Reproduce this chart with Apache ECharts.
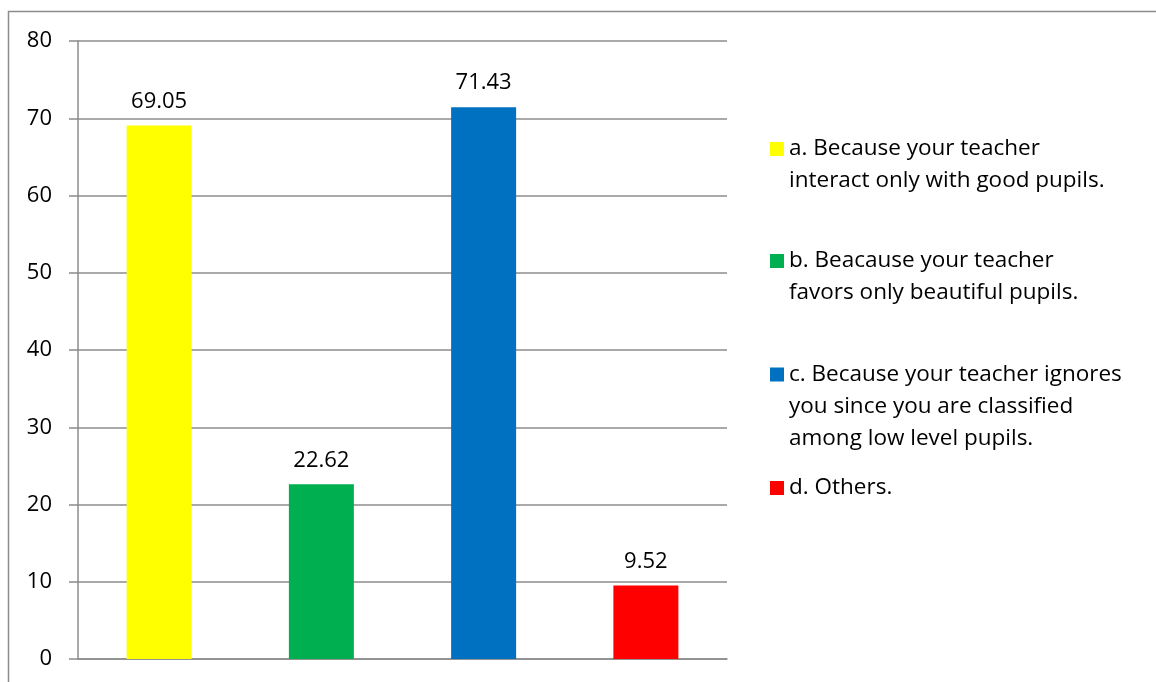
<!DOCTYPE html>
<html>
<head>
<meta charset="utf-8">
<script src="https://cdn.jsdelivr.net/npm/echarts@6/dist/echarts.min.js"></script>
<style>
html,body{margin:0;padding:0;background:#fff;}
#chart{width:1156px;height:682px;}
</style>
</head>
<body>
<div id="chart"></div>
<script>
const categories = ['a', 'b', 'c', 'd'];
const seriesNames = [
  'a. Because your teacher\ninteract only with good pupils.',
  'b. Beacause your teacher\nfavors only beautiful pupils.',
  'c. Because your teacher ignores\nyou since you are classified\namong low level pupils.',
  'd. Others.'
];
const values = [69.05, 22.62, 71.43, 9.52];
const colors = ['#FFFF00', '#00B050', '#0070C0', '#FF0000'];
const yTicks = { min: 0, max: 80, interval: 10 };

const FONT = 'Open Sans';
const LH = 32;
const legendIconCenters = [149, 261, 374.5, 488];

const series = seriesNames.map((name, i) => ({
  name: name,
  type: 'bar',
  stack: 'all',
  barWidth: 65,
  itemStyle: { color: colors[i] },
  label: {
    show: true,
    position: 'top',
    distance: 13,
    fontFamily: FONT,
    fontSize: 22,
    color: '#000',
    formatter: p => values[i].toFixed(2)
  },
  data: categories.map((c, j) => (j === i ? values[i] : '-'))
}));

const legends = seriesNames.map((name, i) => {
  const lines = name.split('\n').length;
  const totalLines = 2 * lines - 1;
  const boxH = totalLines * LH;
  return {
    orient: 'vertical',
    left: 770,
    top: legendIconCenters[i] - boxH / 2,
    padding: 0,
    itemWidth: 14,
    itemHeight: 14,
    itemGap: 0,
    icon: 'rect',
    selectedMode: false,
    data: [name],
    formatter: n => '\n'.repeat(lines - 1) + n,
    textStyle: {
      fontFamily: FONT,
      fontSize: 22.5,
      lineHeight: LH,
      color: '#000'
    }
  };
});

const chart = echarts.init(document.getElementById('chart'), null, { renderer: 'canvas' });
chart.setOption({
  animation: false,
  backgroundColor: '#fff',
  graphic: [{
    type: 'rect',
    shape: { x: 8.5, y: 11.5, width: 1300, height: 800 },
    style: { fill: 'none', stroke: '#8c8c8c', lineWidth: 1.5 },
    silent: true
  }],
  legend: legends,
  grid: { left: 78, right: 429, top: 41, bottom: 23, containLabel: false },
  xAxis: {
    type: 'category',
    data: categories,
    axisLine: { show: true, lineStyle: { color: '#8c8c8c', width: 1.5 } },
    axisTick: { show: false },
    axisLabel: { show: false },
    splitLine: { show: false }
  },
  yAxis: {
    type: 'value',
    min: yTicks.min,
    max: yTicks.max,
    interval: yTicks.interval,
    axisLine: { show: true, lineStyle: { color: '#8c8c8c', width: 1.5 } },
    axisTick: { show: true, length: 9, lineStyle: { color: '#8c8c8c', width: 1.5 } },
    axisLabel: { margin: 26, fontFamily: FONT, fontSize: 22, color: '#000' },
    splitLine: { show: true, lineStyle: { color: '#8c8c8c', width: 1.5 } }
  },
  series: series
});
</script>
</body>
</html>
